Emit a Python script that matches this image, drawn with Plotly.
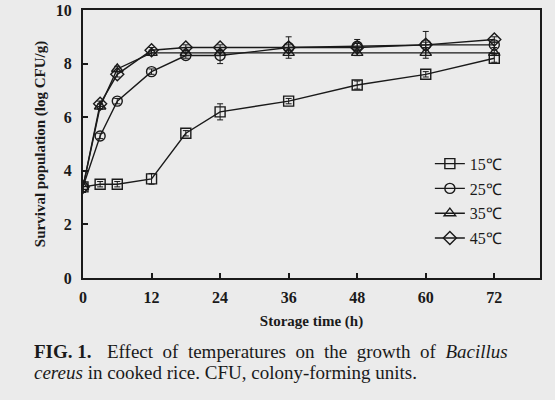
import plotly.graph_objects as go

# storage time (h)
hours = [0, 3, 6, 12, 18, 24, 36, 48, 60, 72]

# log CFU/g
t15 = [3.4, 3.5, 3.5, 3.7, 5.4, 6.2, 6.6, 7.2, 7.6, 8.2]
t25 = [3.4, 5.3, 6.6, 7.7, 8.3, 8.3, 8.6, 8.65, 8.7, 8.7]
t35 = [3.4, 6.4, 7.8, 8.4, 8.4, 8.4, 8.4, 8.4, 8.4, 8.4]
t45 = [3.4, 6.5, 7.6, 8.5, 8.6, 8.6, 8.6, 8.6, 8.7, 8.9]

err15 = [0.2, 0.1, 0.1, 0.2, 0.1, 0.3, 0.1, 0.15, 0.1, 0.15]
err25 = [0.2, 0.1, 0.1, 0.1, 0.1, 0.3, 0.4, 0.1, 0.5, 0.1]
err35 = [0.2, 0.1, 0.1, 0.1, 0.1, 0.1, 0.1, 0.1, 0.1, 0.1]
err45 = [0.2, 0.1, 0.1, 0.1, 0.1, 0.1, 0.1, 0.3, 0.1, 0.1]

names = ["15℃", "25℃", "35℃", "45℃"]
symbols = ["square-open", "circle-open", "triangle-up-open", "diamond-open"]
series = [t15, t25, t35, t45]
errors = [err15, err25, err35, err45]

bg = "#ebebeb"
ink = "#1a1a1a"
serif = "Liberation Serif, Times New Roman, serif"

fig = go.Figure()

for i in range(4):
    fig.add_trace(
        go.Scatter(
            x=hours,
            y=series[i],
            name=names[i],
            legendgroup=names[i],
            mode="lines+markers",
            line=dict(color=ink, width=1.4),
            marker=dict(symbol=symbols[i], size=10, color=ink,
                        line=dict(width=1.4)),
            error_y=dict(type="data", array=errors[i], color=ink,
                         thickness=1, width=3),
        )
    )

fig.update_layout(
    width=555,
    height=400,
    paper_bgcolor=bg,
    plot_bgcolor=bg,
    margin=dict(l=83, r=15, t=10, b=122),
    font=dict(family=serif, color=ink),
    showlegend=True,
    legend=dict(
        x=0.759, y=0.49, xanchor="left", yanchor="top",
        bgcolor="rgba(0,0,0,0)",
        font=dict(size=16, family=serif),
        tracegroupgap=1,
        itemwidth=30,
    ),
)

fig.update_xaxes(
    range=[0, 80],
    tickvals=[0, 12, 24, 36, 48, 60, 72],
    ticks="inside", ticklen=5, tickwidth=1.5, tickcolor=ink,
    showgrid=False, zeroline=False, automargin=False,
    showline=True, mirror=True, linecolor=ink, linewidth=2,
    tickfont=dict(size=16, family=serif, weight="bold"),
    ticklabelstandoff=4, ticklabeloverflow="allow",
    title=dict(text="<b>Storage time (h)</b>", font=dict(size=15), standoff=10),
)

fig.update_yaxes(
    range=[0, 10],
    tickvals=[0, 2, 4, 6, 8, 10],
    ticks="inside", ticklen=5, tickwidth=1.5, tickcolor=ink,
    showgrid=False, zeroline=False, automargin=False,
    showline=True, mirror=True, linecolor=ink, linewidth=2,
    tickfont=dict(size=16, family=serif, weight="bold"),
    ticklabelstandoff=6, ticklabeloverflow="allow",
    title=dict(text="<b>Survival population (log CFU/g)</b>", font=dict(size=15), standoff=7),
)

# figure caption below the plot (first line spread out like justified text)
cap_font = dict(size=19, family=serif, color=ink)
fig.add_annotation(
    xref="paper", yref="paper", x=-0.112, y=-0.276,
    xanchor="left", yanchor="middle", showarrow=False,
    text="<b>FIG. 1.</b>", font=cap_font,
)
fig.add_annotation(
    xref="paper", yref="paper", x=0.934, y=-0.276,
    xanchor="right", yanchor="middle", showarrow=False,
    text="Effect  of  temperatures  on  the  growth  of  <i>Bacillus</i>",
    font=cap_font,
)
fig.add_annotation(
    xref="paper", yref="paper", x=-0.112, y=-0.351,
    xanchor="left", yanchor="middle", showarrow=False,
    text="<i>cereus</i> in cooked rice. CFU, colony-forming units.",
    font=cap_font,
)

# drop the default 8px page margin so the figure fills the window
fig.write_html(
    "out.html",
    config={"displayModeBar": False},
    post_script="document.body.style.margin = '0';",
)
